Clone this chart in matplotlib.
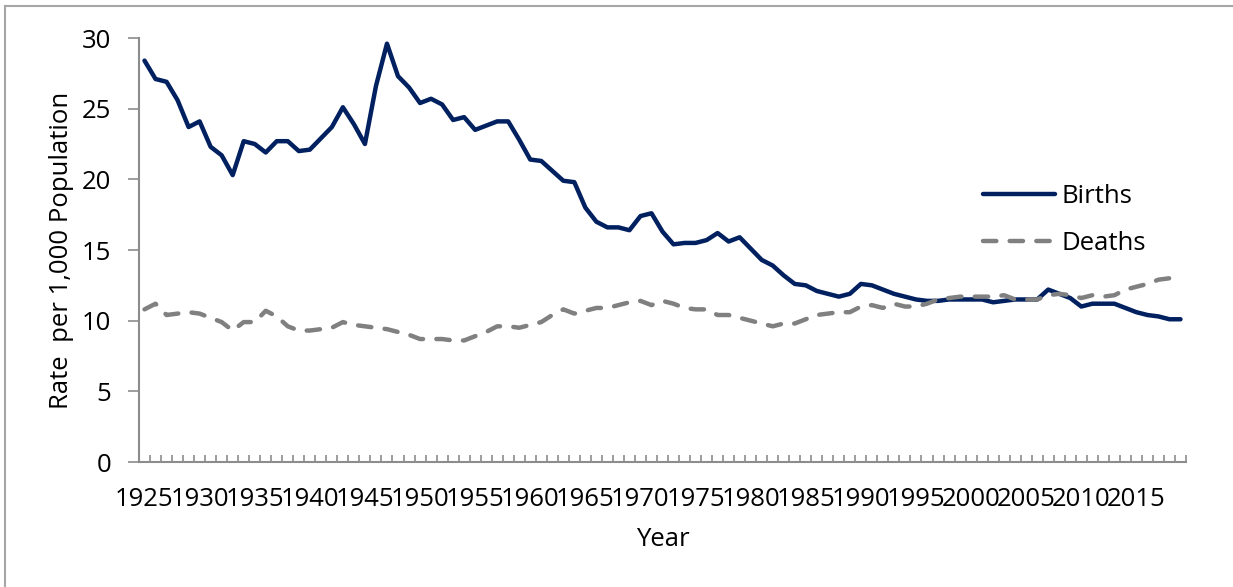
import matplotlib.pyplot as plt
from matplotlib.lines import Line2D
import numpy as np

years = np.arange(1925, 2020)

births = [28.4, 27.1, 26.9, 25.6, 23.7, 24.1, 22.3, 21.7, 20.3, 22.7,
          22.5, 21.9, 22.7, 22.7, 22.0, 22.1, 22.9, 23.7, 25.1, 23.9,
          22.5, 26.6, 29.6, 27.3, 26.5, 25.4, 25.7, 25.3, 24.2, 24.4,
          23.5, 23.8, 24.1, 24.1, 22.8, 21.4, 21.3, 20.6, 19.9, 19.8,
          18.0, 17.0, 16.6, 16.6, 16.4, 17.4, 17.6, 16.3, 15.4, 15.5,
          15.5, 15.7, 16.2, 15.6, 15.9, 15.1, 14.3, 13.9, 13.2, 12.6,
          12.5, 12.1, 11.9, 11.7, 11.9, 12.6, 12.5, 12.2, 11.9, 11.7,
          11.5, 11.4, 11.4, 11.5, 11.5, 11.5, 11.5, 11.3, 11.4, 11.5,
          11.5, 11.5, 12.2, 11.9, 11.6, 11.0, 11.2, 11.2, 11.2, 10.9,
          10.6, 10.4, 10.3, 10.1, 10.1]

deaths = [10.8, 11.2, 10.4, 10.5, 10.6, 10.5, 10.2, 9.9, 9.3, 9.9,
          9.9, 10.7, 10.3, 9.6, 9.3, 9.3, 9.4, 9.5, 9.9, 9.7,
          9.6, 9.5, 9.4, 9.2, 9.0, 8.7, 8.7, 8.7, 8.6, 8.6,
          8.9, 9.2, 9.6, 9.6, 9.5, 9.7, 9.9, 10.4, 10.8, 10.5,
          10.7, 10.9, 10.9, 11.1, 11.3, 11.4, 11.1, 11.4, 11.2, 10.9,
          10.8, 10.8, 10.4, 10.4, 10.2, 10.0, 9.8, 9.6, 9.8, 9.8,
          10.1, 10.4, 10.5, 10.6, 10.6, 11.0, 11.1, 10.9, 11.2, 11.0,
          11.0, 11.2, 11.5, 11.6, 11.7, 11.7, 11.7, 11.7, 11.8, 11.5,
          11.5, 11.5, 11.8, 11.9, 11.8, 11.6, 11.8, 11.7, 11.8, 12.2,
          12.4, 12.6, 12.9, 13.0, 13.1]

tick_years = np.arange(1925, 2016, 5)

plt.rcParams["font.family"] = ["Open Sans", "DejaVu Sans"]
axis_grey = "#8c8c8c"
fs = 18.5

fig = plt.figure(figsize=(12.33, 5.87), dpi=100)
ax = fig.add_axes([139 / 1233, 1 - 462 / 587, (1186 - 139) / 1233, (462 - 38) / 587])

ax.plot(years, births, color="#002060", linewidth=3.2, label="Births",
        solid_capstyle="round", solid_joinstyle="round")
ax.plot(years, deaths, color="#808080", linewidth=3.2, label="Deaths",
        linestyle=(0, (3, 3)), dash_capstyle="round", dash_joinstyle="round")

ax.set_xlim(1924.5, 2019.5)
ax.set_ylim(0, 30)
ax.set_yticks(np.arange(0, 31, 5))
ax.set_xticks(tick_years)
ax.set_xticklabels([str(y) for y in tick_years])
ax.set_xticks(np.arange(1924.5, 2020, 1), minor=True)

ax.tick_params(axis="x", which="major", length=0, pad=18, labelsize=fs)
ax.tick_params(axis="x", which="minor", direction="in", length=5, width=1.2, color=axis_grey)
ax.tick_params(axis="y", direction="out", length=8, width=1.2, color=axis_grey, pad=12, labelsize=fs)

for side in ["top", "right"]:
    ax.spines[side].set_visible(False)
for side in ["left", "bottom"]:
    ax.spines[side].set_color(axis_grey)
    ax.spines[side].set_linewidth(1.5)

ax.set_xlabel("Year", fontsize=fs, labelpad=11)
ax.set_ylabel("Rate  per 1,000 Population", fontsize=fs, labelpad=6)

fig.legend(loc="center left", bbox_to_anchor=(983 / 1233, 1 - 220 / 587),
           frameon=False, fontsize=fs, handlelength=2.8, handletextpad=0.25,
           labelspacing=0.85, borderpad=0, borderaxespad=0)

# outer chart frame (left and top edges visible)
fig.add_artist(Line2D([5 / 1233, 5 / 1233], [0, 1 - 6 / 587], transform=fig.transFigure,
                      color="#a6a6a6", linewidth=1.5))
fig.add_artist(Line2D([5 / 1233, 1], [1 - 6 / 587, 1 - 6 / 587], transform=fig.transFigure,
                      color="#a6a6a6", linewidth=1.5))

fig.savefig("out.png", dpi=100)
